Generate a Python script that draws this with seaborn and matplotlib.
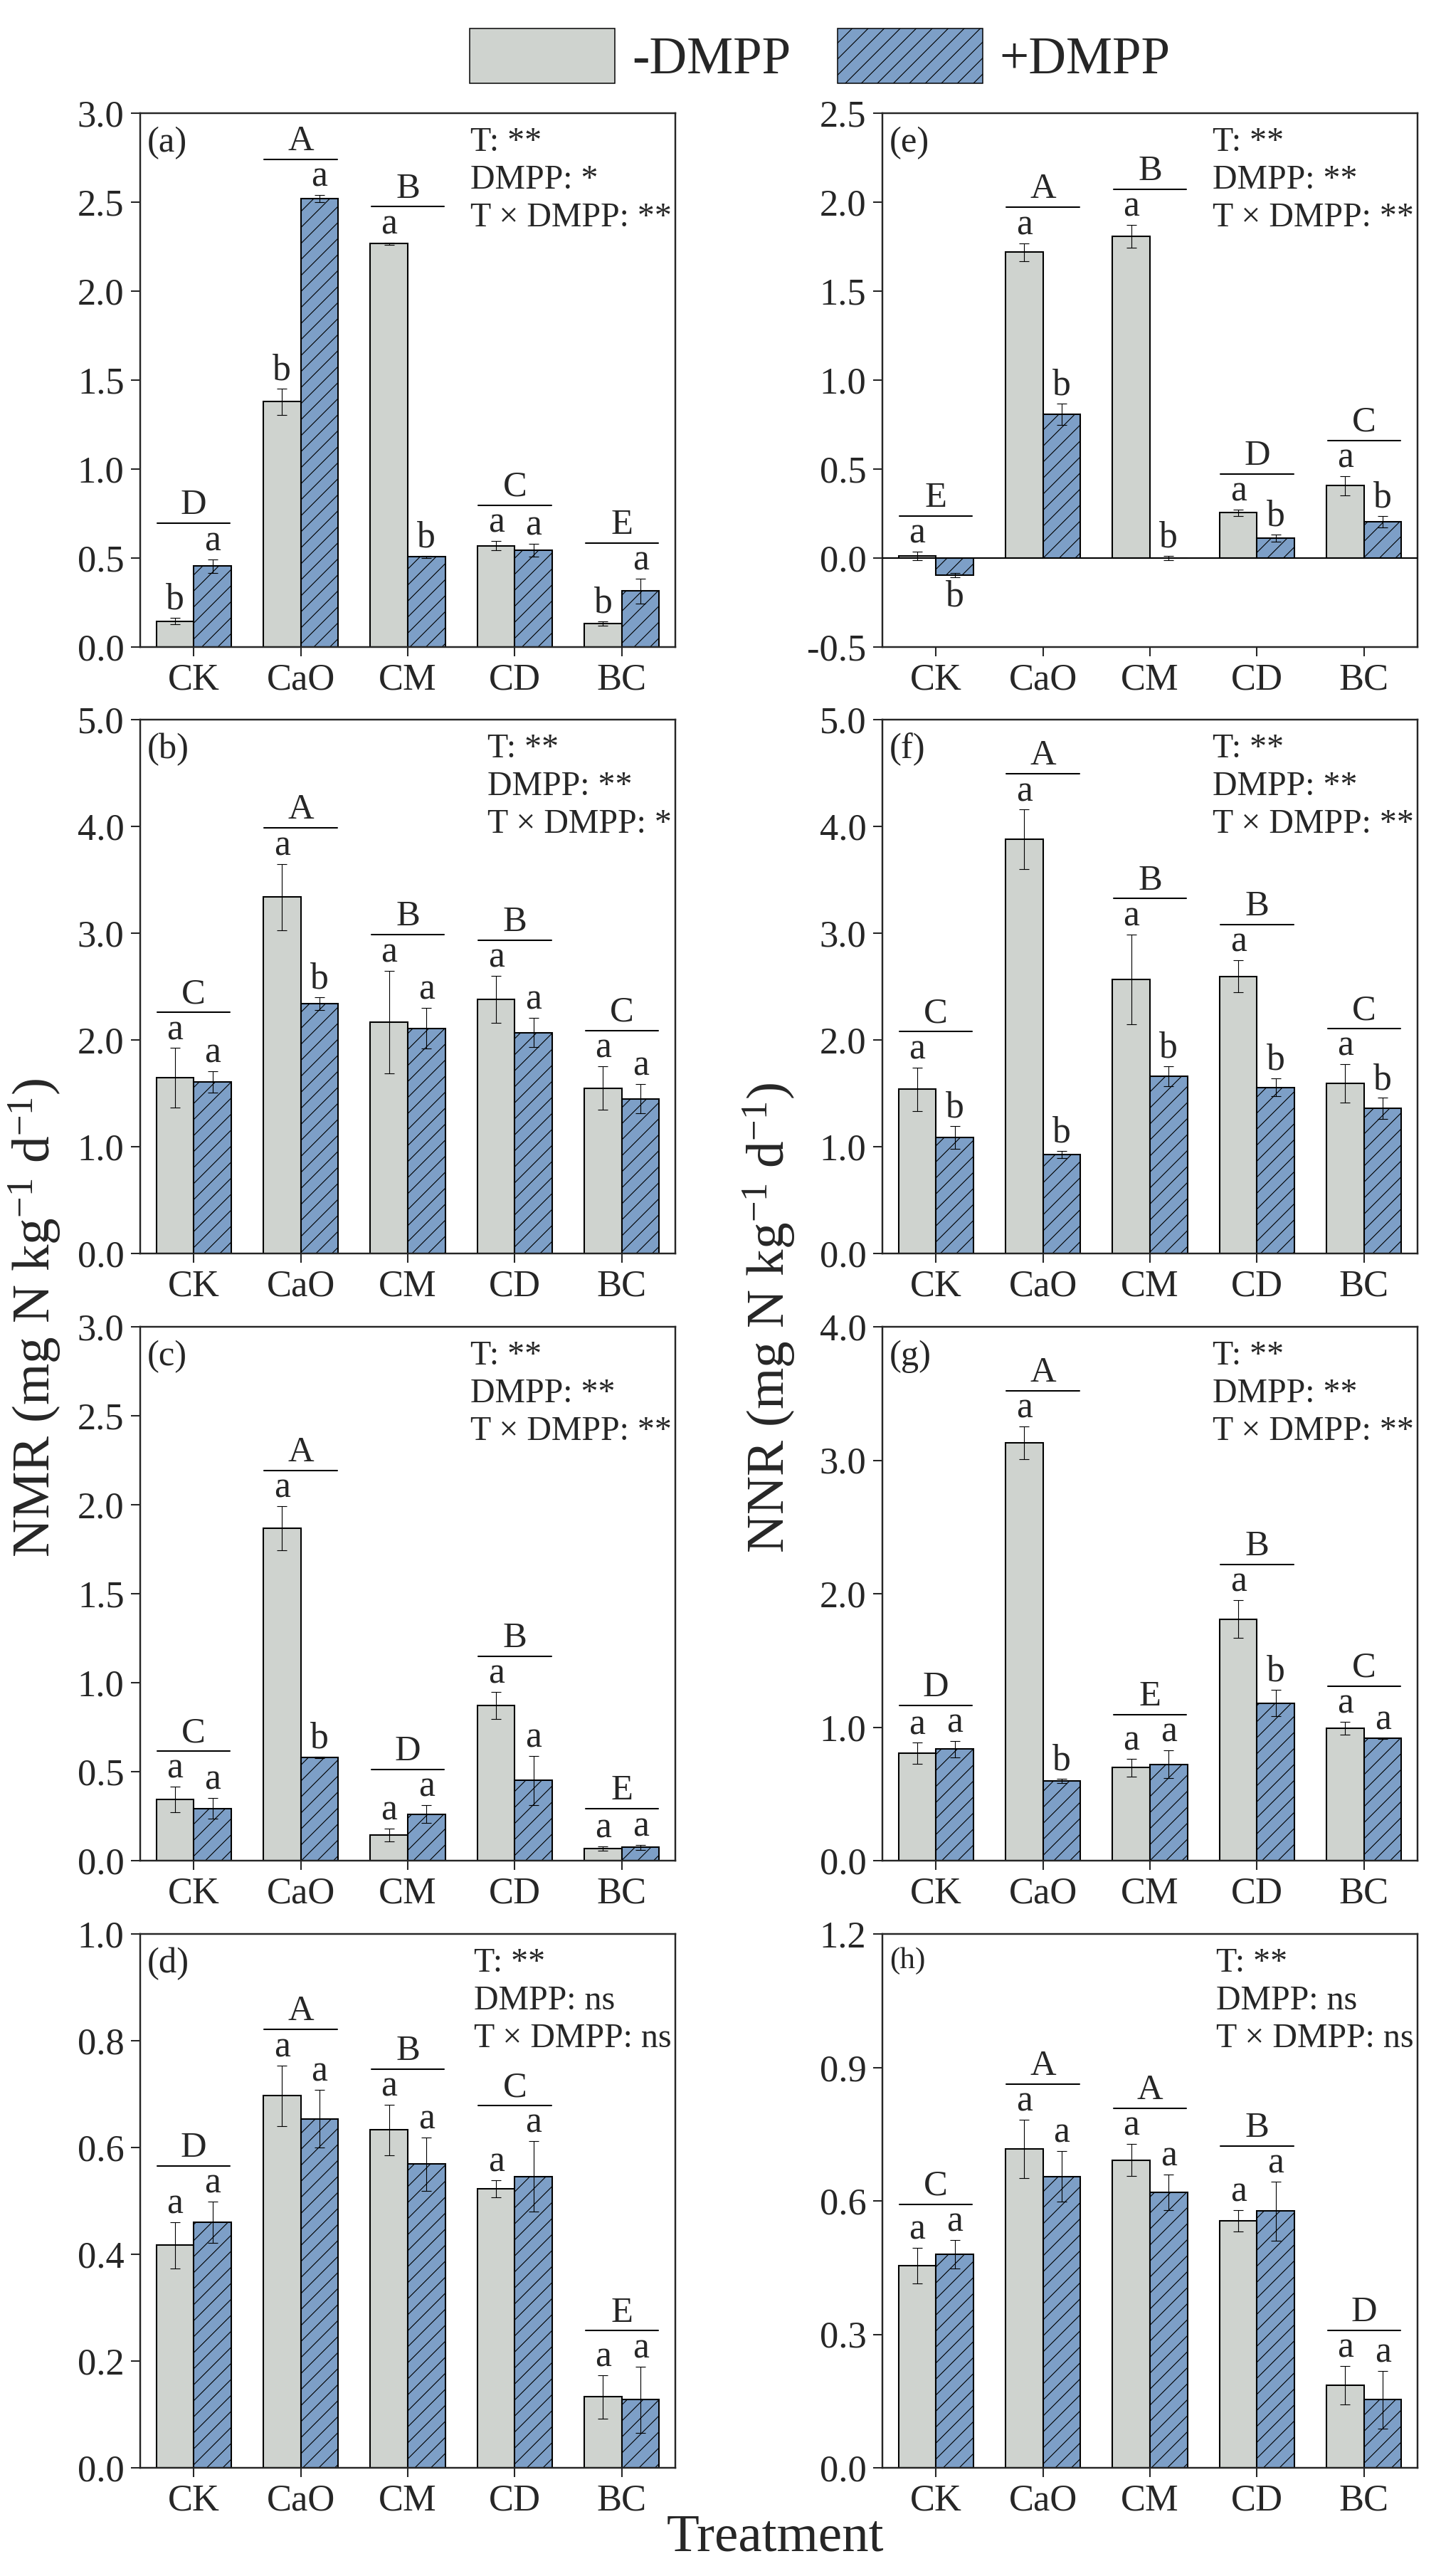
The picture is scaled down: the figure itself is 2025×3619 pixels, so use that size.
import matplotlib
matplotlib.use("Agg")
import matplotlib.pyplot as plt
import matplotlib.ticker as mticker
from matplotlib.patches import Patch
from matplotlib.transforms import offset_copy
import numpy as np
import pandas as pd
import seaborn as sns

# ---- data ----
cats = ['CK', 'CaO', 'CM', 'CD', 'BC']
groups = ['-DMPP', '+DMPP']

# (a)-(d): NMR, (e)-(h): NNR
a_minus = [0.146, 1.38, 2.268, 0.57, 0.133]
a_minus_se = [0.017, 0.074, 0.006, 0.027, 0.011]
a_plus = [0.456, 2.52, 0.507, 0.546, 0.315]
a_plus_se = [0.038, 0.02, 0.005, 0.036, 0.07]
a_let_minus = ['b', 'b', 'a', 'a', 'b']
a_let_plus = ['a', 'a', 'b', 'a', 'a']
a_groups = ['D', 'A', 'B', 'C', 'E']
a_stats = ['**', '*', '**']

b_minus = [1.644, 3.34, 2.17, 2.38, 1.55]
b_minus_se = [0.28, 0.31, 0.48, 0.22, 0.205]
b_plus = [1.61, 2.34, 2.11, 2.07, 1.45]
b_plus_se = [0.10, 0.06, 0.19, 0.136, 0.136]
b_let_minus = ['a', 'a', 'a', 'a', 'a']
b_let_plus = ['a', 'b', 'a', 'a', 'a']
b_groups = ['C', 'A', 'B', 'B', 'C']
b_stats = ['**', '**', '*']

c_minus = [0.344, 1.868, 0.145, 0.872, 0.069]
c_minus_se = [0.071, 0.124, 0.036, 0.075, 0.012]
c_plus = [0.294, 0.58, 0.262, 0.452, 0.076]
c_plus_se = [0.057, 0.004, 0.05, 0.138, 0.014]
c_let_minus = ['a', 'a', 'a', 'a', 'a']
c_let_plus = ['a', 'b', 'a', 'a', 'a']
c_groups = ['C', 'A', 'D', 'B', 'E']
c_stats = ['**', '**', '**']

d_minus = [0.417, 0.697, 0.633, 0.523, 0.133]
d_minus_se = [0.043, 0.057, 0.047, 0.016, 0.041]
d_plus = [0.46, 0.654, 0.569, 0.546, 0.128]
d_plus_se = [0.039, 0.054, 0.05, 0.066, 0.062]
d_let_minus = ['a', 'a', 'a', 'a', 'a']
d_let_plus = ['a', 'a', 'a', 'a', 'a']
d_groups = ['D', 'A', 'B', 'C', 'E']
d_stats = ['**', 'ns', 'ns']

e_minus = [0.012, 1.72, 1.807, 0.255, 0.407]
e_minus_se = [0.024, 0.05, 0.064, 0.017, 0.053]
e_plus = [-0.095, 0.81, 0.002, 0.112, 0.206]
e_plus_se = [0.013, 0.06, 0.012, 0.02, 0.032]
e_let_minus = ['a', 'a', 'a', 'a', 'a']
e_let_plus = ['b', 'b', 'b', 'b', 'b']
e_groups = ['E', 'A', 'B', 'D', 'C']
e_stats = ['**', '**', '**']

f_minus = [1.537, 3.88, 2.57, 2.595, 1.594]
f_minus_se = [0.206, 0.277, 0.42, 0.15, 0.178]
f_plus = [1.086, 0.925, 1.66, 1.556, 1.357]
f_plus_se = [0.105, 0.034, 0.092, 0.082, 0.10]
f_let_minus = ['a', 'a', 'a', 'a', 'a']
f_let_plus = ['b', 'b', 'b', 'b', 'b']
f_groups = ['C', 'A', 'B', 'B', 'C']
f_stats = ['**', '**', '**']

g_minus = [0.805, 3.131, 0.698, 1.809, 0.992]
g_minus_se = [0.078, 0.122, 0.067, 0.142, 0.049]
g_plus = [0.836, 0.597, 0.722, 1.181, 0.915]
g_plus_se = [0.061, 0.018, 0.104, 0.10, 0.004]
g_let_minus = ['a', 'a', 'a', 'a', 'a']
g_let_plus = ['a', 'b', 'a', 'b', 'a']
g_groups = ['D', 'A', 'E', 'B', 'C']
g_stats = ['**', '**', '**']

h_minus = [0.454, 0.717, 0.692, 0.556, 0.186]
h_minus_se = [0.04, 0.065, 0.036, 0.024, 0.043]
h_plus = [0.48, 0.655, 0.62, 0.577, 0.153]
h_plus_se = [0.032, 0.057, 0.04, 0.066, 0.065]
h_let_minus = ['a', 'a', 'a', 'a', 'a']
h_let_plus = ['a', 'a', 'a', 'a', 'a']
h_groups = ['C', 'A', 'A', 'B', 'D']
h_stats = ['**', 'ns', 'ns']

# y axis ranges (lo, hi, step) per panel
yaxes = {'a': (0, 3.0, 0.5), 'b': (0, 5.0, 1.0), 'c': (0, 3.0, 0.5), 'd': (0, 1.0, 0.2),
         'e': (-0.5, 2.5, 0.5), 'f': (0, 5.0, 1.0), 'g': (0, 4.0, 1.0), 'h': (0, 1.2, 0.3)}

GRAY = '#CFD3CF'
BLUE = '#7D9FC7'

sns.set_style('ticks')
plt.rcParams['font.family'] = ['Liberation Serif', 'DejaVu Serif']
plt.rcParams['mathtext.fontset'] = 'custom'
plt.rcParams['mathtext.rm'] = 'Liberation Serif'
plt.rcParams['mathtext.it'] = 'Liberation Serif:italic'
plt.rcParams['axes.unicode_minus'] = False
plt.rcParams['hatch.linewidth'] = 0.6
plt.rcParams['hatch.color'] = 'black'

DPI = 135
fig = plt.figure(figsize=(2025 / DPI, 3619 / DPI), dpi=DPI)


def draw(ax, tag, mm, sm, mp, sp, lm, lp, grp, stats, yax, tagsize=27):
    df = pd.DataFrame({'Treatment': cats * 2,
                       'DMPP': [groups[0]] * 5 + [groups[1]] * 5,
                       'rate': list(mm) + list(mp)})
    sns.barplot(data=df, x='Treatment', y='rate', hue='DMPP', order=cats,
                hue_order=groups, palette=[GRAY, BLUE], saturation=1,
                width=0.7, errorbar=None, edgecolor='black', linewidth=1.1,
                legend=False, ax=ax)
    for p in ax.containers[1]:
        p.set_hatch('//')

    up = offset_copy(ax.transData, fig=fig, y=6.6, units='points')
    down = offset_copy(ax.transData, fig=fig, y=-2, units='points')
    line_tr = offset_copy(ax.transData, fig=fig, y=26.7, units='points')
    cap_tr = offset_copy(ax.transData, fig=fig, y=33.6, units='points')

    tops = np.zeros(len(cats))
    for cont, means, ses, lets in zip(ax.containers, [mm, mp], [sm, sp], [lm, lp]):
        xs = [p.get_x() + p.get_width() / 2 for p in cont]
        ax.errorbar(xs, means, yerr=ses, fmt='none', ecolor='black',
                    elinewidth=0.6, capsize=3.5, capthick=0.6, zorder=4)
        for i, (x, m, s, l) in enumerate(zip(xs, means, ses, lets)):
            if m >= 0:
                ax.text(x, m + s, l, transform=up, ha='center', va='baseline', fontsize=27.5)
                tops[i] = max(tops[i], m + s)
            else:
                ax.text(x, m - s, l, transform=down, ha='center', va='top', fontsize=27.5)

    for i, g in enumerate(grp):
        ax.plot([i - 0.34, i + 0.34], [tops[i], tops[i]], color='black', lw=1.1,
                transform=line_tr, clip_on=False)
        ax.text(i, tops[i], g, transform=cap_tr, ha='center', va='baseline', fontsize=27)

    lo, hi, step = yax
    ax.set_xlim(-0.5, len(cats) - 0.5)
    ax.set_ylim(lo, hi)
    ax.set_yticks(np.round(np.arange(lo, hi + step / 2, step), 2))
    ax.yaxis.set_major_formatter(mticker.FormatStrFormatter('%.1f'))
    if lo < 0:
        ax.axhline(0, color='black', lw=1.1, zorder=3)
    ax.set_xlabel('')
    ax.set_ylabel('')
    for sp_ in ax.spines.values():
        sp_.set_visible(True)
        sp_.set_linewidth(1.3)
    ax.tick_params(direction='out', length=7, width=1.1, labelsize=28, pad=5,
                   top=False, right=False)

    ax.text(0.013, 0.975, tag, transform=ax.transAxes, ha='left', va='top', fontsize=tagsize)
    txt = '\n'.join(['T: ' + stats[0], 'DMPP: ' + stats[1], 'T × DMPP: ' + stats[2]])
    ax.text(0.993, 0.975, txt, transform=ax.transAxes, ha='right', va='top',
            multialignment='left', linespacing=1.27, fontsize=25.5)


W, H = 2025, 3619
col_left = [197 / W, 1240 / W]
ax_w = 752 / W
ax_h = 750 / H
row_bottom = [1 - 909 / H, 1 - 1761 / H, 1 - 2614 / H, 1 - 3467 / H]

left_panels = [
    ('(a)', a_minus, a_minus_se, a_plus, a_plus_se, a_let_minus, a_let_plus, a_groups, a_stats, yaxes['a']),
    ('(b)', b_minus, b_minus_se, b_plus, b_plus_se, b_let_minus, b_let_plus, b_groups, b_stats, yaxes['b']),
    ('(c)', c_minus, c_minus_se, c_plus, c_plus_se, c_let_minus, c_let_plus, c_groups, c_stats, yaxes['c']),
    ('(d)', d_minus, d_minus_se, d_plus, d_plus_se, d_let_minus, d_let_plus, d_groups, d_stats, yaxes['d']),
]
right_panels = [
    ('(e)', e_minus, e_minus_se, e_plus, e_plus_se, e_let_minus, e_let_plus, e_groups, e_stats, yaxes['e']),
    ('(f)', f_minus, f_minus_se, f_plus, f_plus_se, f_let_minus, f_let_plus, f_groups, f_stats, yaxes['f']),
    ('(g)', g_minus, g_minus_se, g_plus, g_plus_se, g_let_minus, g_let_plus, g_groups, g_stats, yaxes['g']),
    ('(h)', h_minus, h_minus_se, h_plus, h_plus_se, h_let_minus, h_let_plus, h_groups, h_stats, yaxes['h']),
]

for c, panels in enumerate([left_panels, right_panels]):
    for r, args in enumerate(panels):
        ax = fig.add_axes([col_left[c], row_bottom[r], ax_w, ax_h])
        draw(ax, *args, tagsize=23 if args[0] == '(h)' else 27)

fig.text(0.0242, 0.4885, 'NMR (mg N kg$^{-1}$ d$^{-1}$)', rotation=90,
         ha='center', va='center', fontsize=40)
fig.text(0.5338, 0.4885, 'NNR (mg N kg$^{-1}$ d$^{-1}$)', rotation=90,
         ha='center', va='center', fontsize=40)
fig.text(0.538, 0.0097, 'Treatment', ha='center', va='baseline', fontsize=40)

handles = [Patch(facecolor=GRAY, edgecolor='black', lw=0.8),
           Patch(facecolor=BLUE, edgecolor='black', lw=0.8, hatch='//')]
fig.legend(handles, groups, loc='center', bbox_to_anchor=(0.569, 0.978), ncol=2,
           frameon=False, fontsize=39, handlelength=2.8, handleheight=1.23,
           handletextpad=0.32, columnspacing=0.9, borderpad=0, borderaxespad=0)

fig.savefig('out.png', dpi=DPI)
